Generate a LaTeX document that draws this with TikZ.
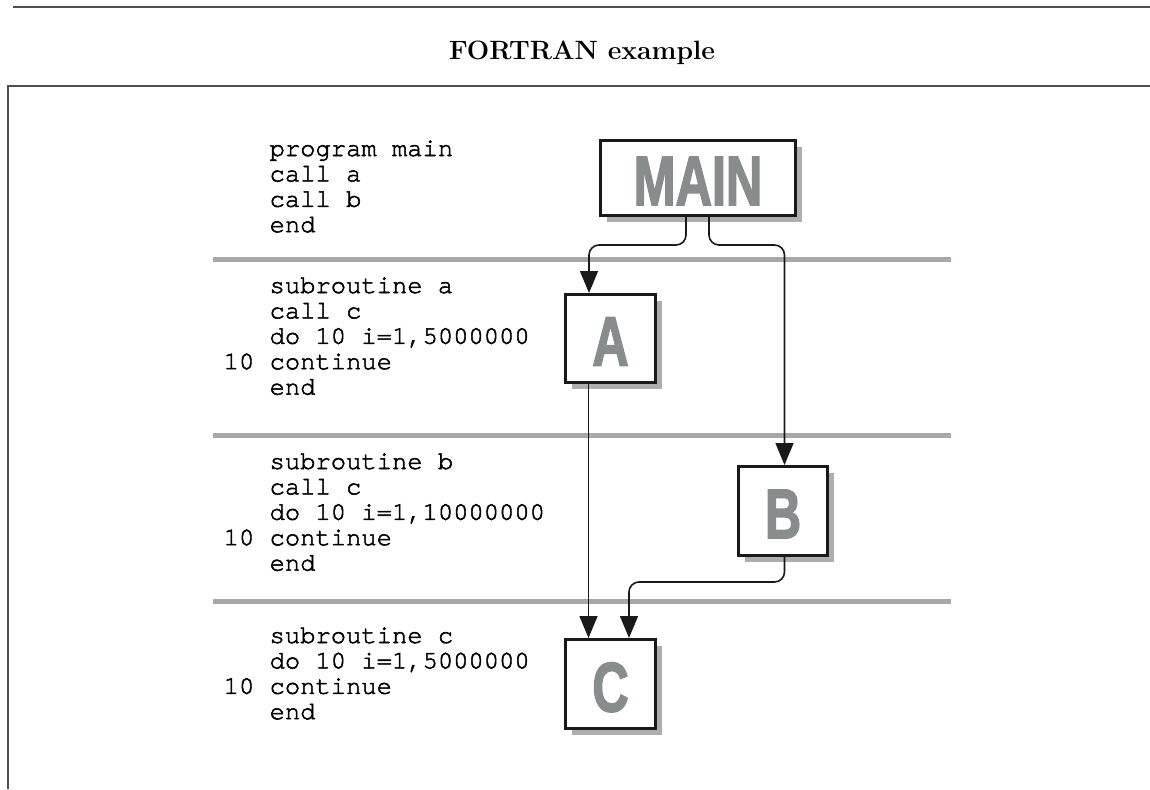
\documentclass[tikz,border=0pt]{standalone}
\usepackage{fontspec}
\usepackage{graphicx}
\usetikzlibrary{arrows.meta,shadows}
\newfontfamily\codefont[FakeBold=2]{TeX Gyre Cursor}
\newfontfamily\boxfont[BoldFeatures={FakeBold=2.5}]{Liberation Sans}
\definecolor{sepgray}{RGB}{165,170,168}
\definecolor{lettergray}{RGB}{136,140,140}
\definecolor{shadowgray}{RGB}{172,175,174}
\definecolor{framegray}{RGB}{80,80,80}
\newcommand\ind{\phantom{10 }}
\newcommand\boxletters[1]{\raisebox{-3pt}[\height][0pt]{\scalebox{0.72}[1]{#1}}}
\tikzset{
  routine/.style={draw=black!90, line width=3pt, fill=white, inner sep=0pt,
    font=\boxfont\bfseries\fontsize{70}{70}\selectfont, text=lettergray,
    drop shadow={shadow xshift=6pt, shadow yshift=-6pt, fill=shadowgray, opacity=1}},
  code/.style={anchor=base west, inner sep=0pt},
  sepline/.style={draw=sepgray, line width=5pt},
  callarrow/.style={draw=black!90, line width=1.6pt, rounded corners=10pt,
    -{Triangle[length=22pt,width=18pt]}},
  frameline/.style={draw=framegray, line width=1.8pt}
}
\newcommand\codeblock[1]{\parbox[t]{400pt}{\raggedright\codefont\fontsize{25.5}{25.4}\selectfont #1}}
\begin{document}
\begin{tikzpicture}[x=1pt,y=-1pt]
\useasboundingbox (0,0) rectangle (1150,789);
% frame
\draw[frameline] (13,7) -- (1150,7);
\draw[frameline] (8,789) -- (8,86) -- (1150,86);
\node (title) at (582,60) [anchor=base, inner sep=0pt, font=\bfseries\fontsize{26.5}{30}\selectfont] {FORTRAN example};
% separators
\draw[sepline] (213,259) -- (951,259);
\draw[sepline] (213,435) -- (951,435);
\draw[sepline] (213,601) -- (951,601);
% code
\node[code] (codemain) at (223.5,156) {\codeblock{\ind program main\\ \ind call a\\ \ind call b\\ \ind end}};
\node[code] (codea) at (223.5,293) {\codeblock{\ind subroutine a\\ \ind call c\\ \ind do 10 i=1,5000000\\ 10 continue\\ \ind end}};
\node[code] (codeb) at (223.5,469) {\codeblock{\ind subroutine b\\ \ind call c\\ \ind do 10 i=1,10000000\\ 10 continue\\ \ind end}};
\node[code] (codec) at (223.5,643) {\codeblock{\ind subroutine c\\ \ind do 10 i=1,5000000\\ 10 continue\\ \ind end}};
% routine boxes
\node[routine, minimum width=195pt, minimum height=75pt] (MAIN) at (698,178) {\boxletters{MAIN}};
\node[routine, minimum width=90pt, minimum height=88pt] (A) at (610.5,338.5) {\boxletters{A}};
\node[routine, minimum width=89pt, minimum height=89pt] (B) at (783,511) {\boxletters{B}};
\node[routine, minimum width=90pt, minimum height=89pt] (C) at (610.5,684) {\boxletters{C}};
% calls
\draw[callarrow] ([xshift=-12pt]MAIN.south) -- ++(0,28) -| ([xshift=-21.5pt]A.north);
\draw[callarrow] ([xshift=11pt]MAIN.south) -- ++(0,28) -| ([xshift=1.5pt]B.north);
\draw[callarrow] ([xshift=-22pt]A.south) -- ([xshift=-22pt]C.north);
\draw[callarrow] ([xshift=1.5pt]B.south) -- ++(0,25) -| ([xshift=18.5pt]C.north);
\end{tikzpicture}
\end{document}
